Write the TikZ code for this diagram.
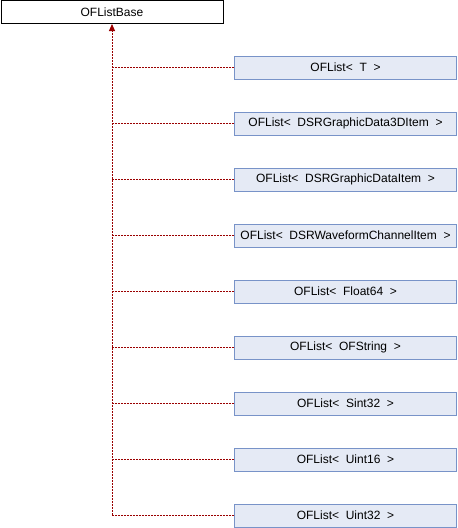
\documentclass[tikz,border=0pt]{standalone}
\usepackage{fontspec}
\setmainfont{Liberation Sans}
\usetikzlibrary{arrows.meta}
\definecolor{boxfill}{HTML}{E5EAF5}
\definecolor{boxline}{HTML}{7893C8}
\definecolor{linkred}{HTML}{9A0000}
\tikzset{
  basebox/.style={draw=black, fill=white, line width=1pt, minimum width=222pt, minimum height=23pt, inner sep=0pt, font=\fontsize{12}{14}\selectfont},
  childbox/.style={draw=boxline, fill=boxfill, line width=1pt, minimum width=222pt, minimum height=23pt, inner sep=0pt, font=\fontsize{12}{14}\selectfont},
  link/.style={draw=linkred, line width=1pt, dash pattern=on 2pt off 1pt},
  inherit/.style={link, -{Triangle[length=7pt,width=6pt]}}
}
\begin{document}
\begin{tikzpicture}[x=1pt,y=-1pt]
\useasboundingbox (0,0) rectangle (458,528);
\node[basebox] (base) at (112,12) {OFListBase};
\node[childbox] (c1) at (345.5,67.5) {OFList<\ \ T\ \ >};
\node[childbox] (c2) at (345.5,123.5) {OFList<\ \ DSRGraphicData3DItem\ \ >};
\node[childbox] (c3) at (345.5,179.5) {OFList<\ \ DSRGraphicDataItem\ \ >};
\node[childbox] (c4) at (345.5,235.5) {OFList<\ \ DSRWaveformChannelItem\ \ >};
\node[childbox] (c5) at (345.5,291.5) {OFList<\ \ Float64\ \ >};
\node[childbox] (c6) at (345.5,347.5) {OFList<\ \ OFString\ \ >};
\node[childbox] (c7) at (345.5,403.5) {OFList<\ \ Sint32\ \ >};
\node[childbox] (c8) at (345.5,459.5) {OFList<\ \ Uint16\ \ >};
\node[childbox] (c9) at (345.5,515.5) {OFList<\ \ Uint32\ \ >};
\draw[inherit] (c9.west) -| (base.south);
\foreach \i in {1,...,8} {
  \draw[link] (c\i.west) -- (c\i.west -| base.south);
}
\end{tikzpicture}
\end{document}
